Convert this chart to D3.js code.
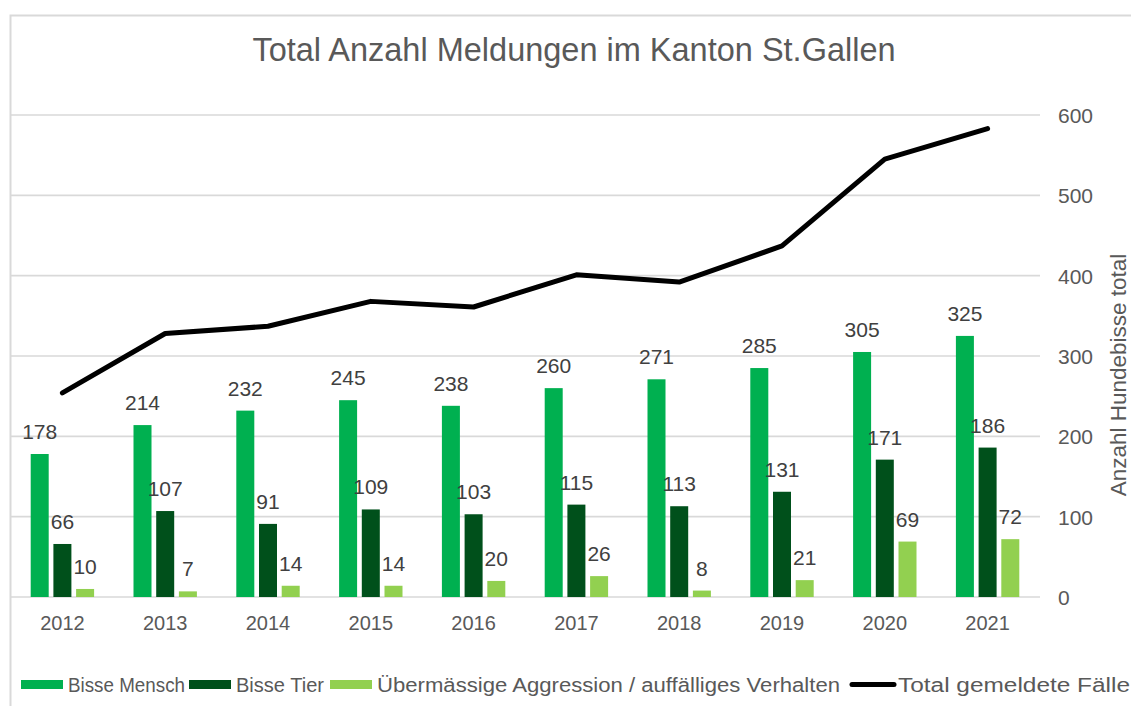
<!DOCTYPE html>
<html>
<head>
<meta charset="utf-8">
<script src="https://cdn.jsdelivr.net/npm/d3@7"></script>
<style>
  html, body { margin: 0; padding: 0; background: #fff; }
  svg { display: block; font-family: "Liberation Sans", Arial, sans-serif; }
</style>
</head>
<body>
<svg id="chart" width="1131" height="706"></svg>
<script>
// Reported dog incidents in the canton of St. Gallen, per year
const years = ["2012", "2013", "2014", "2015", "2016", "2017", "2018", "2019", "2020", "2021"];
const bisseMensch = [178, 214, 232, 245, 238, 260, 271, 285, 305, 325];
const bisseTier = [66, 107, 91, 109, 103, 115, 113, 131, 171, 186];
const aggression = [10, 7, 14, 14, 20, 26, 8, 21, 69, 72];
const totalFaelle = [254, 328, 337, 368, 361, 401, 392, 437, 545, 583];
const yTicks = [0, 100, 200, 300, 400, 500, 600];

const barSeries = [
  { name: "Bisse Mensch", values: bisseMensch, color: "#00B050" },
  { name: "Bisse Tier", values: bisseTier, color: "#00501B" },
  { name: "Übermässige Aggression / auffälliges Verhalten", values: aggression, color: "#92D050" }
];

const svg = d3.select("#chart");
const textGray = "#595959";
const labelGray = "#404040";
const gridGray = "#D9D9D9";

// chart frame
svg.append("rect")
  .attr("x", 10.5).attr("y", 15.5)
  .attr("width", 1200).attr("height", 800)
  .attr("fill", "none").attr("stroke", gridGray).attr("stroke-width", 2);

// title
svg.append("text")
  .attr("x", 574).attr("y", 61)
  .attr("text-anchor", "middle")
  .attr("fill", textGray)
  .style("font-size", "32.5px")
  .text("Total Anzahl Meldungen im Kanton St.Gallen");

const plotLeft = 11, plotRight = 1040;
const x = d3.scaleBand().domain(years).range([plotLeft, plotRight - 1]).padding(0);
const y = d3.scaleLinear().domain([0, 600]).range([597, 115]);

// horizontal gridlines
svg.append("g").selectAll("line")
  .data(yTicks)
  .join("line")
  .attr("x1", plotLeft).attr("x2", plotRight)
  .attr("y1", d => y(d)).attr("y2", d => y(d))
  .attr("stroke", gridGray).attr("stroke-width", 1.6);

// right value axis
const yAxis = d3.axisRight(y).tickValues(yTicks).tickSize(0).tickPadding(0);
const yAxisG = svg.append("g")
  .attr("transform", "translate(1058,0)")
  .call(yAxis);
yAxisG.select(".domain").remove();
yAxisG.selectAll("text")
  .attr("fill", textGray)
  .attr("dy", "0.35em")
  .style("font-size", "21px")
  .style("font-family", "'Liberation Sans', Arial, sans-serif");

// right axis title
svg.append("text")
  .attr("transform", "translate(1126,375) rotate(-90)")
  .attr("text-anchor", "middle")
  .attr("fill", textGray)
  .style("font-size", "22.5px")
  .text("Anzahl Hundebisse total");

// category axis
const xAxis = d3.axisBottom(x).tickSize(0).tickPadding(0);
const xAxisG = svg.append("g")
  .attr("transform", "translate(0,597)")
  .call(xAxis);
xAxisG.select(".domain").remove();
xAxisG.selectAll("text")
  .attr("fill", textGray)
  .attr("y", 33)
  .attr("dy", 0)
  .style("font-size", "20px")
  .style("font-family", "'Liberation Sans', Arial, sans-serif");

// clustered bars
const barW = 18, barStep = 22.7;
const offset = i => x.bandwidth() / 2 + (i - 1) * barStep - barW / 2;

barSeries.forEach((s, i) => {
  const g = svg.append("g");
  g.selectAll("rect")
    .data(s.values)
    .join("rect")
    .attr("x", (d, j) => x(years[j]) + offset(i))
    .attr("y", d => y(d))
    .attr("width", barW)
    .attr("height", d => y(0) - y(d))
    .attr("fill", s.color);
  g.selectAll("text")
    .data(s.values)
    .join("text")
    .attr("x", (d, j) => x(years[j]) + offset(i) + barW / 2)
    .attr("y", d => y(d) - 15)
    .attr("text-anchor", "middle")
    .attr("fill", labelGray)
    .style("font-size", "21px")
    .text(d => d);
});

// total line
const line = d3.line()
  .x((d, j) => x(years[j]) + x.bandwidth() / 2)
  .y(d => y(d));
svg.append("path")
  .datum(totalFaelle)
  .attr("d", line)
  .attr("fill", "none")
  .attr("stroke", "#000")
  .attr("stroke-width", 5)
  .attr("stroke-linejoin", "round")
  .attr("stroke-linecap", "round");

// legend
const legendItems = [
  { name: barSeries[0].name, color: barSeries[0].color, type: "rect", x: 21, len: 117 },
  { name: barSeries[1].name, color: barSeries[1].color, type: "rect", x: 189, len: 88 },
  { name: barSeries[2].name, color: barSeries[2].color, type: "rect", x: 330, len: 463 },
  { name: "Total gemeldete Fälle", color: "#000", type: "line", x: 850, len: 232 }
];
const legend = svg.append("g");
legendItems.forEach(it => {
  if (it.type === "rect") {
    legend.append("rect")
      .attr("x", it.x).attr("y", 680)
      .attr("width", 42).attr("height", 9)
      .attr("fill", it.color);
  } else {
    legend.append("line")
      .attr("x1", it.x + 2).attr("x2", it.x + 44)
      .attr("y1", 684.5).attr("y2", 684.5)
      .attr("stroke", it.color).attr("stroke-width", 5)
      .attr("stroke-linecap", "round");
  }
  legend.append("text")
    .attr("x", it.x + (it.type === "rect" ? 47 : 48))
    .attr("y", 692)
    .attr("fill", textGray)
    .attr("textLength", it.len)
    .attr("lengthAdjust", "spacingAndGlyphs")
    .style("font-size", "20px")
    .text(it.name);
});
</script>
</body>
</html>
